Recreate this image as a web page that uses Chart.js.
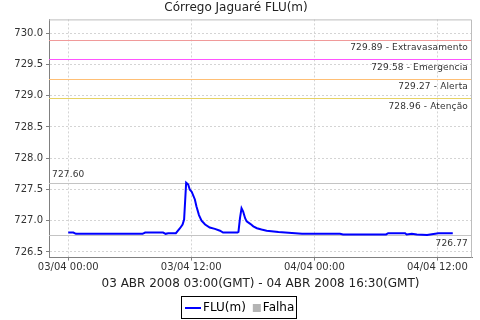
<!DOCTYPE html>
<html>
<head>
<meta charset="utf-8">
<script src="https://cdn.jsdelivr.net/npm/chart.js@4"></script>
<style>
  html, body { margin: 0; padding: 0; background: #fff; }
  #wrap { width: 480px; height: 320px; }
</style>
</head>
<body>
<div id="wrap"><canvas id="myChart" width="480" height="320"></canvas></div>
<script>
// hours after 03/04 00:00 (local time)
const hours = [0, 0.5, 0.75, 7.25, 7.5, 9.25, 9.5, 9.75, 10.5, 10.9, 11.15, 11.3, 11.5, 11.7, 11.85,
  12.05, 12.35, 12.5, 12.75, 13.0, 13.35, 13.8, 14.3, 14.8, 15.1, 16.5, 16.6, 16.75, 16.9, 17.05,
  17.25, 17.4, 17.75, 18.05, 18.4, 18.85, 19.35, 20.5, 22.8, 26.5, 26.8, 31.0, 31.2, 32.85, 33.0,
  33.5, 34.0, 35.0, 35.3, 36.1, 37.5];
const levels = [726.81, 726.81, 726.79, 726.79, 726.81, 726.81, 726.79, 726.80, 726.80, 726.88, 726.94, 727.02, 727.61, 727.58, 727.50,
  727.46, 727.34, 727.23, 727.09, 727.00, 726.94, 726.89, 726.87, 726.84, 726.81, 726.81, 726.82, 727.04, 727.20, 727.15,
  727.04, 726.99, 726.95, 726.91, 726.88, 726.86, 726.84, 726.82, 726.79, 726.79, 726.78, 726.78, 726.80, 726.80, 726.78,
  726.79, 726.78, 726.77, 726.78, 726.80, 726.80];

const tickLabels = { 0: "03/04 00:00", 12: "03/04 12:00", 24: "04/04 00:00", 36: "04/04 12:00" };

// alert levels
const markerValues = [729.89, 729.58, 729.27, 728.96];
const markerNames = ["Extravasamento", "Emergencia", "Alerta", "Atenção"];
const markerColors = ["#f09a9a", "#ff55ff", "#ffbf75", "#e6d264"];

const maxLevel = 727.60;
const minLevel = 726.77;

const markersPlugin = {
  id: "markers",
  beforeDatasetsDraw(chart) {
    const { ctx, chartArea, scales } = chart;
    ctx.save();
    ctx.setLineDash([]);
    ctx.lineWidth = 1;
    const hline = (v, color) => {
      const y = Math.round(scales.y.getPixelForValue(v)) + 0.5;
      ctx.strokeStyle = color;
      ctx.beginPath();
      ctx.moveTo(chartArea.left, y);
      ctx.lineTo(chartArea.right, y);
      ctx.stroke();
    };
    markerValues.forEach((v, i) => hline(v, markerColors[i]));
    hline(maxLevel, "#c4c4c4");
    hline(minLevel, "#c4c4c4");

    ctx.font = "9px 'DejaVu Sans'";
    ctx.letterSpacing = "0.15px";
    ctx.fillStyle = "#333";
    ctx.textBaseline = "middle";
    ctx.textAlign = "right";
    markerValues.forEach((v, i) => {
      const y = scales.y.getPixelForValue(v);
      ctx.fillText(v.toFixed(2) + " - " + markerNames[i], chartArea.right - 4, y + 8);
    });
    ctx.fillText(minLevel.toFixed(2), chartArea.right - 4, scales.y.getPixelForValue(minLevel) + 9);
    ctx.textAlign = "left";
    ctx.fillText(maxLevel.toFixed(2), chartArea.left + 3, scales.y.getPixelForValue(maxLevel) - 9);
    ctx.restore();
  },
  afterDraw(chart) {
    const { ctx, chartArea, width } = chart;
    ctx.save();
    ctx.setLineDash([]);
    ctx.lineWidth = 1;
    ctx.strokeStyle = "#bdbdbd";
    ctx.beginPath();
    ctx.moveTo(chartArea.left, chartArea.top + 0.5);
    ctx.lineTo(chartArea.right - 0.5, chartArea.top + 0.5);
    ctx.lineTo(chartArea.right - 0.5, chartArea.bottom);
    ctx.stroke();

    // legend with a black frame, centred under the chart
    const ds = chart.data.datasets;
    ctx.font = "12px 'DejaVu Sans'";
    ctx.textBaseline = "middle";
    ctx.textAlign = "left";
    const w0 = ctx.measureText(ds[0].label).width;
    const w1 = ctx.measureText(ds[1].label).width;
    const total = 18 + w0 + 7 + 10 + w1;
    const left = Math.round(width / 2 - total / 2);
    const top = 296, h = 22, cy = top + h / 2 + 1;
    ctx.strokeStyle = "#000";
    ctx.strokeRect(left - 3.5, top + 0.5, Math.round(total + 6), h);
    ctx.strokeStyle = ds[0].borderColor;
    ctx.lineWidth = 2;
    ctx.beginPath();
    ctx.moveTo(left, cy);
    ctx.lineTo(left + 16, cy);
    ctx.stroke();
    ctx.fillStyle = "#000";
    ctx.fillText(ds[0].label, left + 18, cy);
    const sx = left + 18 + w0 + 7;
    ctx.fillStyle = ds[1].backgroundColor;
    ctx.fillRect(sx, cy - 4, 8, 8);
    ctx.fillStyle = "#000";
    ctx.fillText(ds[1].label, sx + 10, cy);
    ctx.restore();
  },
};

document.addEventListener("DOMContentLoaded", function () {
  const ctx = document.getElementById("myChart").getContext("2d");

  const gridOpts = {
    color: "#d4d4d4",
    tickLength: 3,
    tickColor: "#808080",
    tickBorderDash: [],
  };

  new Chart(ctx, {
    type: "line",
    data: {
      datasets: [
        {
          label: "FLU(m)",
          data: hours.map((h, i) => ({ x: h, y: levels[i] })),
          borderColor: "#0000ff",
          backgroundColor: "#0000ff",
          borderWidth: 2,
          pointRadius: 0,
          tension: 0,
        },
        {
          label: "Falha",
          data: [],
          borderColor: "#b4b4b4",
          backgroundColor: "#b4b4b4",
        },
      ],
    },
    options: {
      responsive: false,
      animation: false,
      layout: { padding: { left: 0, right: 8, top: 0, bottom: 29 } },
      plugins: {
        title: {
          display: true,
          text: "Córrego Jaguaré FLU(m)",
          color: "#222",
          font: { family: "'DejaVu Sans'", size: 12, weight: "normal" },
          padding: { top: 1, bottom: 4 },
        },
        legend: { display: false },
        tooltip: { enabled: false },
      },
      scales: {
        x: {
          type: "linear",
          min: -1.875,
          max: 39.375,
          border: { color: "#808080", dash: [2, 2] },
          grid: gridOpts,
          ticks: {
            stepSize: 12,
            includeBounds: false,
            autoSkip: false,
            maxRotation: 0,
            color: "#333",
            font: { family: "'DejaVu Sans'", size: 10 },
            padding: 1,
            callback: (v) => tickLabels[v] || "",
          },
          title: {
            display: true,
            text: "03 ABR 2008 03:00(GMT) - 04 ABR 2008 16:30(GMT)",
            color: "#222",
            font: { family: "'DejaVu Sans'", size: 12 },
            padding: { top: 2, bottom: 0 },
          },
        },
        y: {
          min: 726.41,
          max: 730.22,
          border: { color: "#808080", dash: [2, 2] },
          afterFit: (scale) => { scale.width = 49; },
          grid: gridOpts,
          ticks: {
            stepSize: 0.5,
            includeBounds: false,
            color: "#333",
            font: { family: "'DejaVu Sans'", size: 10 },
            padding: 3,
            callback: (v) => v.toFixed(1),
          },
        },
      },
    },
    plugins: [markersPlugin],
  });
});
</script>
</body>
</html>
